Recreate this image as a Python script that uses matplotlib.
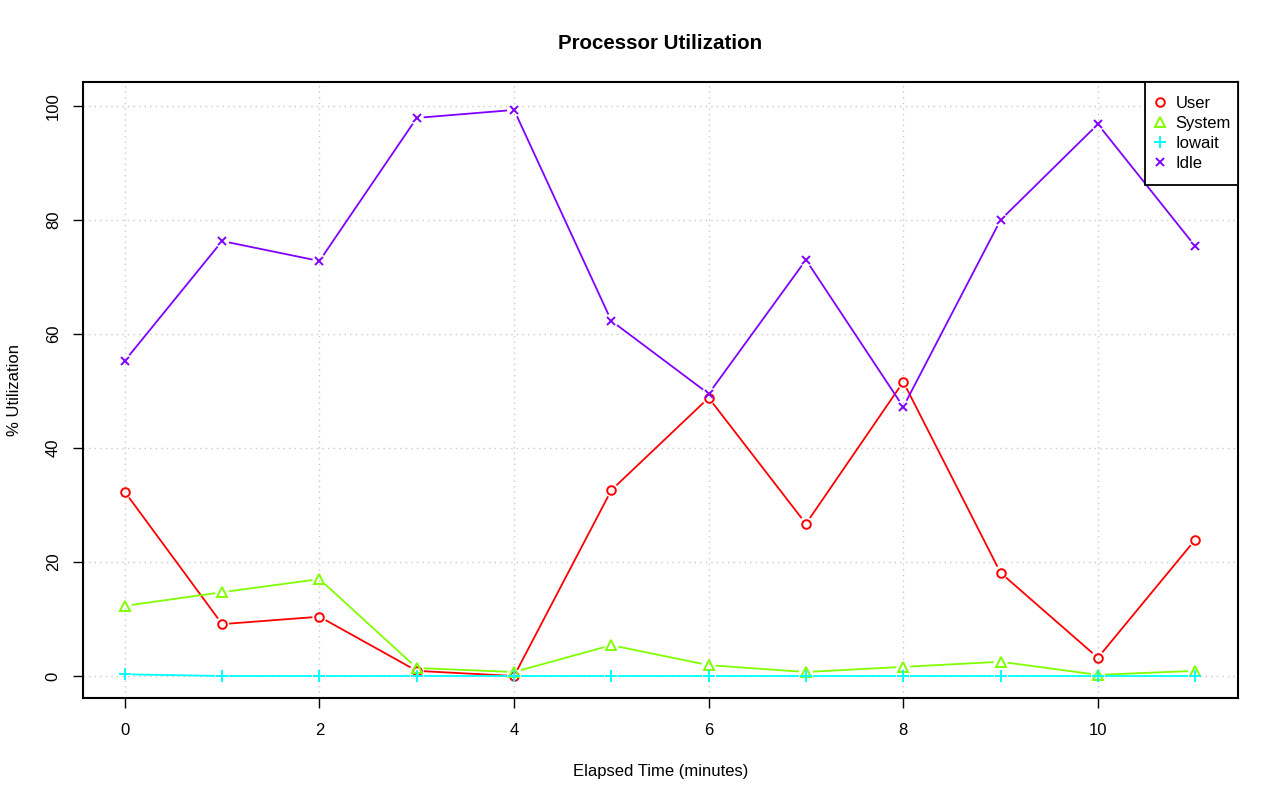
import numpy as np
import matplotlib
matplotlib.use("Agg")
import matplotlib.pyplot as plt
from matplotlib.patches import Rectangle

plt.rcParams['font.family'] = ['Liberation Sans', 'DejaVu Sans']

minutes = list(range(12))
user = [32.3, 9.1, 10.4, 0.9, 0.0, 32.6, 48.8, 26.7, 51.6, 18.1, 3.2, 23.9]
system = [12.3, 14.7, 17.0, 1.4, 0.7, 5.4, 1.9, 0.7, 1.6, 2.5, 0.2, 0.9]
iowait = [0.3, 0.0, 0.0, 0.0, 0.0, 0.0, 0.0, 0.0, 0.0, 0.0, 0.0, 0.0]
idle = [55.3, 76.3, 72.8, 97.9, 99.3, 62.3, 49.5, 73.0, 47.2, 80.0, 96.8, 75.4]

series_names = ["User", "System", "Iowait", "Idle"]
series_values = [user, system, iowait, idle]
colors = ["#FF0000", "#80FF00", "#00FFFF", "#8000FF"]
markers = ["o", "^", "+", "x"]
msizes = [6.2, 6.8, 8.0, 5.6]

fig = plt.figure(figsize=(12.8, 8.01), dpi=100)
ax = fig.add_axes([83/1280, 1-698/801, (1238-83)/1280, (698-82)/801])

ax.set_xlim(-0.43, 11.44)
ax.set_ylim(-3.86, 104.2)
ax.set_xticks([0, 2, 4, 6, 8, 10])
ax.set_yticks([0, 20, 40, 60, 80, 100])
ax.grid(True, color="#c8c8c8", linestyle=(0, (1, 3)), linewidth=1.0)
ax.set_axisbelow(True)
for s in ax.spines.values():
    s.set_linewidth(1.5)
    s.set_color("black")
ax.tick_params(axis="both", direction="out", length=7, width=1, labelsize=12, colors="black")
ax.tick_params(axis="x", pad=11)
ax.tick_params(axis="y", pad=9)
for lab in ax.get_yticklabels():
    lab.set_rotation(90)
    lab.set_va("center")

fig.canvas.draw()
gap = 7.0  # pixels
trans = ax.transData
inv = trans.inverted()
handles = []
for name, vals, c, m, ms in zip(series_names, series_values, colors, markers, msizes):
    pts = trans.transform(np.column_stack([minutes, vals]))
    for i in range(len(pts) - 1):
        p0, p1 = pts[i], pts[i + 1]
        d = p1 - p0
        L = np.hypot(*d)
        if L <= 2 * gap:
            continue
        u = d / L
        a = inv.transform(p0 + u * gap)
        b = inv.transform(p1 - u * gap)
        ax.plot([a[0], b[0]], [a[1], b[1]], color=c, linewidth=1.3, solid_capstyle="butt")
    h, = ax.plot(minutes, vals, linestyle="none", marker=m, markersize=ms,
                 markerfacecolor="none", markeredgecolor=c, markeredgewidth=1.4, label=name)
    handles.append(h)

ax.set_title("Processor Utilization", fontsize=14.8, fontweight="bold", pad=24)
ax.set_xlabel("Elapsed Time (minutes)", fontsize=12, labelpad=18.5)
ax.set_ylabel("% Utilization", fontsize=12, labelpad=17)

ax_w_px = ax.get_window_extent().width
shift = 7.0 / ax_w_px
leg = ax.legend(handles=handles, loc="upper right", fontsize=12, frameon=False,
                bbox_to_anchor=(1 + shift, 1), borderaxespad=0,
                handlelength=0.1, handletextpad=0.85, borderpad=0.85,
                labelspacing=0.3)
fig.canvas.draw()
lb = leg.get_window_extent()
axb = ax.get_window_extent()
fx0, fy0 = fig.transFigure.inverted().transform((lb.x0, lb.y0))
fx1, fy1 = fig.transFigure.inverted().transform((axb.x1, axb.y1))
rect = Rectangle((fx0, fy0), fx1 - fx0, fy1 - fy0, transform=fig.transFigure,
                 facecolor="white", edgecolor="black", linewidth=1.3, zorder=4)
fig.add_artist(rect)
leg.remove()
fig.add_artist(leg)
leg.set_zorder(5)

fig.savefig("out.png", dpi=100)
